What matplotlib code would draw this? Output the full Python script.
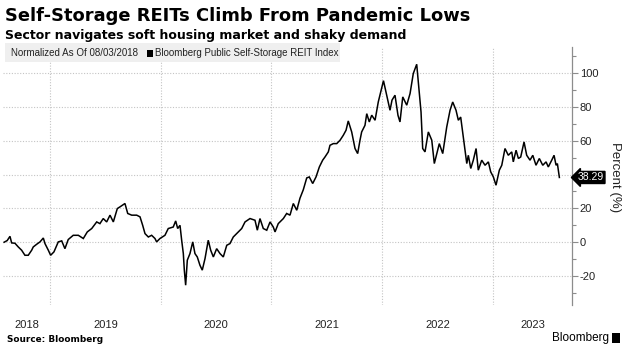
import matplotlib
matplotlib.use("Agg")
import matplotlib.pyplot as plt
from matplotlib.ticker import FixedLocator, NullFormatter, FuncFormatter
from matplotlib.patches import Rectangle

# ------------------------------- Data -------------------------------

# decimal year of each sampled point
t_year = [
    2018.586, 2018.614, 2018.639, 2018.654, 2018.684, 2018.714, 2018.744, 2018.774,
    2018.804, 2018.835, 2018.849, 2018.880, 2018.910, 2018.940, 2018.955, 2018.985,
    2019.006, 2019.036, 2019.075, 2019.106, 2019.135, 2019.165, 2019.210, 2019.256,
    2019.301, 2019.337, 2019.377, 2019.422, 2019.451, 2019.481, 2019.512, 2019.542,
    2019.572, 2019.608, 2019.632, 2019.677, 2019.702, 2019.738, 2019.783, 2019.813,
    2019.837, 2019.858, 2019.888, 2019.918, 2019.948, 2019.963, 2019.993, 2020.038,
    2020.068, 2020.113, 2020.135, 2020.153, 2020.174, 2020.189, 2020.204, 2020.213,
    2020.225, 2020.240, 2020.264, 2020.289, 2020.309, 2020.330, 2020.354, 2020.375,
    2020.400, 2020.429, 2020.451, 2020.475, 2020.505, 2020.535, 2020.565, 2020.596,
    2020.625, 2020.655, 2020.700, 2020.731, 2020.761, 2020.806, 2020.851, 2020.872,
    2020.896, 2020.926, 2020.957, 2020.987, 2021.016, 2021.032, 2021.061, 2021.107,
    2021.137, 2021.167, 2021.197, 2021.228, 2021.257, 2021.287, 2021.318, 2021.341,
    2021.372, 2021.402, 2021.432, 2021.462, 2021.483, 2021.513, 2021.528, 2021.558,
    2021.589, 2021.619, 2021.648, 2021.673, 2021.693, 2021.724, 2021.754, 2021.778,
    2021.799, 2021.814, 2021.844, 2021.860, 2021.883, 2021.905, 2021.935, 2021.964,
    2021.986, 2022.011, 2022.040, 2022.070, 2022.088, 2022.115, 2022.142, 2022.160,
    2022.185, 2022.221, 2022.251, 2022.280, 2022.311, 2022.332, 2022.350, 2022.365,
    2022.386, 2022.416, 2022.447, 2022.470, 2022.492, 2022.515, 2022.546, 2022.582,
    2022.612, 2022.636, 2022.666, 2022.687, 2022.708, 2022.732, 2022.763, 2022.777,
    2022.799, 2022.822, 2022.847, 2022.867, 2022.898, 2022.928, 2022.958, 2022.979,
    2023.003, 2023.027, 2023.057, 2023.079, 2023.108, 2023.138, 2023.169, 2023.183,
    2023.208, 2023.229, 2023.250, 2023.280, 2023.304, 2023.334, 2023.359, 2023.388,
    2023.418, 2023.449, 2023.479, 2023.499, 2023.530, 2023.551, 2023.569, 2023.581,
    2023.599,
]

# percent change since 08/03/2018
pct = [
    0.0, 1.0, 3.5, -0.4, -0.6, -2.8, -4.7, -7.7,
    -7.7, -4.7, -2.8, -1.2, 0.2, 2.5, -0.8, -4.7,
    -7.7, -5.7, 0.2, 0.8, -3.8, 1.6, 4.1, 4.1,
    2.2, 6.1, 8.1, 12.0, 11.0, 14.0, 12.0, 16.0,
    12.0, 19.9, 20.9, 22.9, 17.0, 16.0, 16.0, 15.0,
    10.0, 5.1, 3.1, 4.1, 2.2, 0.2, 2.2, 4.1,
    8.1, 9.0, 12.6, 8.1, 10.0, 1.2, -6.7, -16.5,
    -25.4, -10.6, -6.7, 0.2, -6.7, -8.7, -13.6, -16.5,
    -9.6, 1.2, -4.7, -8.7, -3.8, -6.7, -8.7, -1.8,
    -0.8, 3.1, 6.1, 8.1, 12.0, 14.0, 13.0, 7.1,
    14.0, 8.1, 7.1, 12.0, 9.0, 6.1, 11.0, 14.0,
    17.0, 16.0, 22.9, 18.9, 26.0, 31.0, 38.0, 38.6,
    34.7, 38.6, 44.5, 48.5, 50.4, 53.4, 57.3, 58.3,
    58.3, 60.3, 63.2, 66.2, 71.7, 65.2, 55.4, 52.4,
    60.3, 65.2, 69.1, 76.0, 71.1, 75.1, 72.1, 82.9,
    88.8, 95.5, 86.9, 78.0, 84.0, 86.9, 75.0, 71.1,
    85.9, 81.0, 87.9, 99.7, 105.2, 89.8, 77.0, 55.4,
    53.4, 65.2, 60.3, 46.5, 52.4, 58.3, 52.4, 68.1,
    78.0, 82.9, 78.0, 72.1, 74.0, 62.2, 46.5, 51.4,
    43.6, 48.5, 55.4, 42.6, 48.5, 45.5, 47.5, 41.6,
    38.6, 33.7, 42.6, 45.5, 55.4, 51.4, 53.4, 47.5,
    54.4, 49.5, 50.4, 59.3, 51.4, 48.5, 51.4, 45.5,
    49.5, 45.5, 47.5, 44.5, 48.5, 51.4, 45.5, 46.5,
    38.29,
]

year_labels = ["2018", "2019", "2020", "2021", "2022", "2023"]
year_bounds = [2019, 2020, 2021, 2022, 2023]
y_major = [-20, 0, 20, 40, 60, 80, 100]
y_minor = [-30, -10, 10, 30, 50, 70, 90, 110]
hidden_label = 40   # sits under the last-value tag in the original

# ------------------------------------- Figure -------------------------------------

W, H = 627, 351
fig = plt.figure(figsize=(W / 100, H / 100), dpi=100)
fig.patch.set_facecolor("white")

small = "Liberation Sans"

# axes placed by pixel box (left, top, right, bottom)
L, T, R, B = 3, 47, 572, 305
ax = fig.add_axes([L / W, 1 - B / H, (R - L) / W, (B - T) / H])

x_lo, x_hi = 2018.576, 2023.713
ax.set_xlim(x_lo, x_hi)
ax.set_ylim(-37.1, 115.4)

ax.plot(t_year, pct, color="black", linewidth=1.1, solid_joinstyle="miter")

# spines
for side in ["left", "top", "bottom"]:
    ax.spines[side].set_visible(False)
ax.spines["right"].set_color("#8c8c8c")
ax.spines["right"].set_linewidth(0.9)

# y axis on the right
ax.yaxis.tick_right()
ax.yaxis.set_major_locator(FixedLocator(y_major))
ax.yaxis.set_minor_locator(FixedLocator(y_minor))
ax.yaxis.set_major_formatter(FuncFormatter(lambda v, p: "" if v == hidden_label else f"{v:g}"))
ax.tick_params(axis="y", which="major", direction="out", length=4, width=0.8,
               color="#8c8c8c", labelsize=8, labelcolor="#222222", pad=1.5)
ax.tick_params(axis="y", which="minor", direction="out", length=3, width=0.8,
               color="#8c8c8c")
for lab in ax.get_yticklabels():
    lab.set_family(small)

# x axis: gridlines at year boundaries, labels centred in each visible year
ax.xaxis.set_major_locator(FixedLocator(year_bounds))
ax.xaxis.set_major_formatter(NullFormatter())
edges = [x_lo] + year_bounds + [x_hi]
mids = [(a + b) / 2 for a, b in zip(edges[:-1], edges[1:])]
ax.xaxis.set_minor_locator(FixedLocator(mids))
ax.set_xticklabels(year_labels, minor=True)
ax.tick_params(axis="x", which="both", length=0, labelsize=8, labelcolor="#222222", pad=11)
for lab in ax.get_xticklabels(minor=True):
    lab.set_family(small)

ax.grid(which="major", axis="both", linestyle=(0, (1, 1.5)), color="#c4c4c4", linewidth=0.8)

# last value tag
ax.text(1.01, pct[-1], f"{pct[-1]:.2f}", transform=ax.get_yaxis_transform(),
        ha="left", va="center", color="white", fontsize=7.5, family=small,
        bbox=dict(boxstyle="larrow,pad=0.1", fc="black", ec="black"), zorder=5)

fig.text(615 / W, 1 - 177 / H, "Percent (%)", rotation=270, ha="center", va="center",
         fontsize=9.5, color="#222222", family=small)

# ------------------------------------- Texts -------------------------------------

fig.text(5 / W, 1 - 16 / H, "Self-Storage REITs Climb From Pandemic Lows",
         fontsize=12.9, fontweight="bold", ha="left", va="center", color="black")
fig.text(5 / W, 1 - 35 / H, "Sector navigates soft housing market and shaky demand",
         fontsize=9.0, fontweight="bold", ha="left", va="center", color="black")

# legend strip
fig.patches.append(Rectangle((5 / W, 1 - 62 / H), 335 / W, 19 / H, transform=fig.transFigure,
                             facecolor="#efefef", edgecolor="none", zorder=0))
fig.text(11 / W, 1 - 53 / H, "Normalized As Of 08/03/2018",
         fontsize=7, ha="left", va="center", color="#222222", family=small)
fig.patches.append(Rectangle((147 / W, 1 - 57 / H), 6 / W, 7 / H, transform=fig.transFigure,
                             facecolor="black", edgecolor="none"))
fig.text(155 / W, 1 - 53 / H, "Bloomberg Public Self-Storage REIT Index",
         fontsize=7, ha="left", va="center", color="#222222", family=small)

fig.text(7 / W, 1 - 340 / H, "Source: Bloomberg", fontsize=6.4, fontweight="bold",
         ha="left", va="center", color="black")
fig.text(609 / W, 1 - 338 / H, "Bloomberg", fontsize=8.5, ha="right", va="center",
         color="black", family=small)
fig.patches.append(Rectangle((612 / W, 1 - 343 / H), 8 / W, 10 / H, transform=fig.transFigure,
                             facecolor="black", edgecolor="none"))

fig.savefig("out.png", dpi=100)
